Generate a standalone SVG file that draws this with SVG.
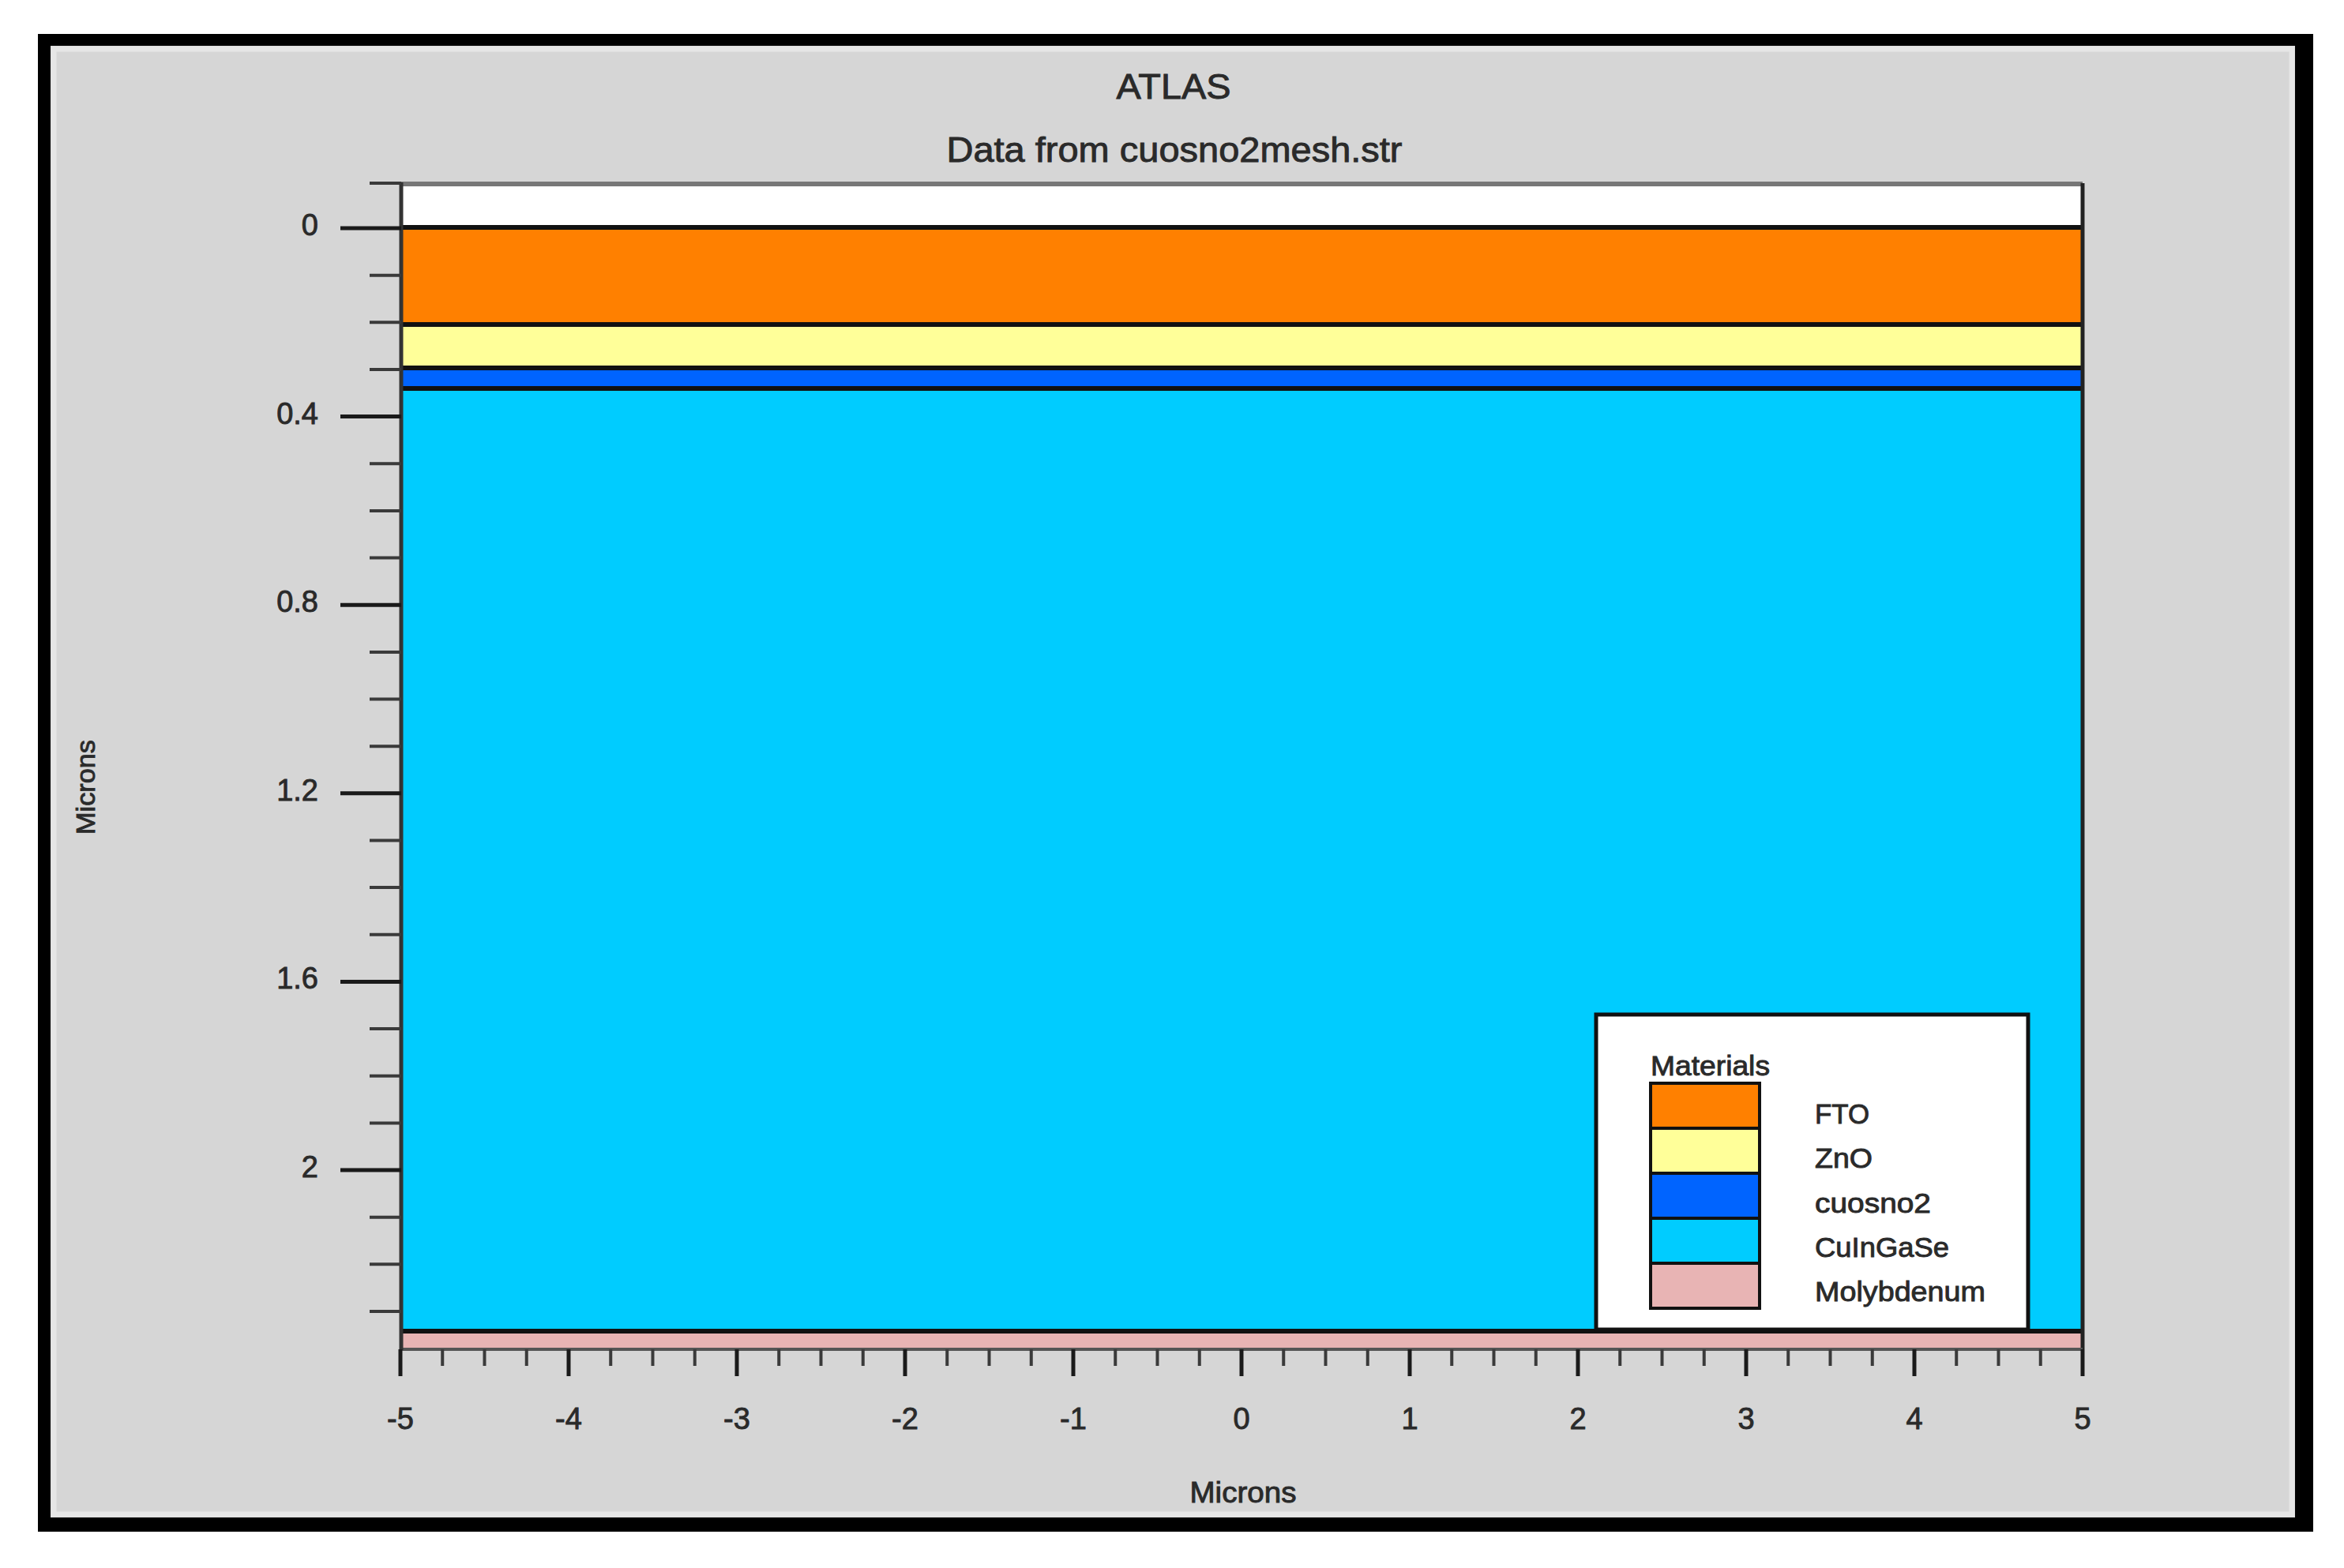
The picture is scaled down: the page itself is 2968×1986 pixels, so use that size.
<svg xmlns="http://www.w3.org/2000/svg" width="2968" height="1986" viewBox="0 0 2968 1986">
<style>
text{font-family:"Liberation Sans",Arial,sans-serif;font-weight:normal;fill:#2a2a2a;stroke:#2a2a2a;stroke-width:0.9}
.title{font-size:44px}
.tick{font-size:38px}
.leg{font-size:35px}
.sw{stroke:#111;stroke-width:4}
.bnd{stroke:#111;stroke-width:6}
.maj{stroke:#1a1a1a;stroke-width:5;fill:none}
.min{stroke:#3a3a3a;stroke-width:4;fill:none}
</style>
<rect x="0" y="0" width="2968" height="1986" fill="#ffffff"/>
<g id="frame">
<path d="M48,43H2929V1940H48Z M64,58V1922H2906V58Z" fill="#000" fill-rule="evenodd"/>
<rect x="64" y="58" width="2842" height="1864" fill="#d6d6d6"/>
<rect x="68" y="62" width="2834" height="1856" fill="none" stroke="#e6e6e6" stroke-width="7"/>
</g>
<g id="titles">
<text class="title" x="1486" y="125" text-anchor="middle" textLength="145" lengthAdjust="spacingAndGlyphs">ATLAS</text>
<text class="title" x="1487" y="205" text-anchor="middle" textLength="577" lengthAdjust="spacingAndGlyphs">Data from cuosno2mesh.str</text>
</g>
<g id="layers">
<rect id="air" x="508" y="232" width="2129" height="56" fill="#ffffff"/>
<rect id="fto" x="508" y="288" width="2129" height="123" fill="#ff8000"/>
<rect id="zno" x="508" y="411" width="2129" height="55" fill="#ffff99"/>
<rect id="cuosno2" x="508" y="466" width="2129" height="26" fill="#0064ff"/>
<rect id="cuingase" x="508" y="492" width="2129" height="1194" fill="#00ccff"/>
<rect id="molybdenum" x="508" y="1686" width="2129" height="23" fill="#e8b4b4"/>
<path class="bnd" d="M508,288H2637 M508,411H2637 M508,466H2637 M508,492H2637 M508,1686H2637"/>
<path d="M508,233H2637" stroke="#777" stroke-width="6"/>
<path d="M2637,232V1709" stroke="#222" stroke-width="5"/>
<path d="M508,1709H2637" stroke="#555" stroke-width="4"/>
<path d="M508,231V1710" stroke="#333" stroke-width="5"/>
</g>
<g id="y-axis">
<path class="maj" d="M431,289H508 M431,527.6H508 M431,766.2H508 M431,1004.8H508 M431,1243.4H508 M431,1482H508"/>
<path class="min" d="M468,232H508 M468,348.7H508 M468,408.3H508 M468,468H508 M468,587.3H508 M468,646.9H508 M468,706.6H508 M468,825.9H508 M468,885.5H508 M468,945.2H508 M468,1064.5H508 M468,1124.1H508 M468,1183.8H508 M468,1303.1H508 M468,1362.7H508 M468,1422.4H508 M468,1541.7H508 M468,1601.3H508 M468,1661H508"/>
<text class="tick" x="403" y="298" text-anchor="end">0</text>
<text class="tick" x="403" y="537" text-anchor="end">0.4</text>
<text class="tick" x="403" y="775" text-anchor="end">0.8</text>
<text class="tick" x="403" y="1014" text-anchor="end">1.2</text>
<text class="tick" x="403" y="1252" text-anchor="end">1.6</text>
<text class="tick" x="403" y="1491" text-anchor="end">2</text>
<text class="tick" transform="translate(120,997) rotate(-90)" text-anchor="middle" textLength="120" lengthAdjust="spacingAndGlyphs" style="font-size:34px">Microns</text>
</g>
<g id="x-axis">
<path class="maj" d="M507,1709V1743 M720,1709V1743 M933,1709V1743 M1146,1709V1743 M1359,1709V1743 M1572,1709V1743 M1785,1709V1743 M1998,1709V1743 M2211,1709V1743 M2424,1709V1743 M2637,1709V1743"/>
<path class="min" d="M560.25,1709V1730 M613.5,1709V1730 M666.75,1709V1730 M773.25,1709V1730 M826.5,1709V1730 M879.75,1709V1730 M986.25,1709V1730 M1039.5,1709V1730 M1092.75,1709V1730 M1199.25,1709V1730 M1252.5,1709V1730 M1305.75,1709V1730 M1412.25,1709V1730 M1465.5,1709V1730 M1518.75,1709V1730 M1625.25,1709V1730 M1678.5,1709V1730 M1731.75,1709V1730 M1838.25,1709V1730 M1891.5,1709V1730 M1944.75,1709V1730 M2051.25,1709V1730 M2104.5,1709V1730 M2157.75,1709V1730 M2264.25,1709V1730 M2317.5,1709V1730 M2370.75,1709V1730 M2477.25,1709V1730 M2530.5,1709V1730 M2583.75,1709V1730"/>
<text class="tick" x="507" y="1810" text-anchor="middle">-5</text>
<text class="tick" x="720" y="1810" text-anchor="middle">-4</text>
<text class="tick" x="933" y="1810" text-anchor="middle">-3</text>
<text class="tick" x="1146" y="1810" text-anchor="middle">-2</text>
<text class="tick" x="1359" y="1810" text-anchor="middle">-1</text>
<text class="tick" x="1572" y="1810" text-anchor="middle">0</text>
<text class="tick" x="1785" y="1810" text-anchor="middle">1</text>
<text class="tick" x="1998" y="1810" text-anchor="middle">2</text>
<text class="tick" x="2211" y="1810" text-anchor="middle">3</text>
<text class="tick" x="2424" y="1810" text-anchor="middle">4</text>
<text class="tick" x="2637" y="1810" text-anchor="middle">5</text>
<text class="tick" x="1574" y="1903" text-anchor="middle" textLength="135" lengthAdjust="spacingAndGlyphs" style="font-size:36px">Microns</text>
</g>
<g id="legend">
<rect x="2021" y="1285" width="547" height="399" fill="#ffffff" stroke="#111" stroke-width="5"/>
<text class="leg" x="2090" y="1362" textLength="151" lengthAdjust="spacingAndGlyphs">Materials</text>
<g id="legend-fto"><rect class="sw" x="2090" y="1372" width="138" height="57" fill="#ff8000"/><text class="leg" x="2298" y="1423" textLength="69" lengthAdjust="spacingAndGlyphs">FTO</text></g>
<g id="legend-zno"><rect class="sw" x="2090" y="1429" width="138" height="57" fill="#ffff99"/><text class="leg" x="2298" y="1479" textLength="73" lengthAdjust="spacingAndGlyphs">ZnO</text></g>
<g id="legend-cuosno2"><rect class="sw" x="2090" y="1486" width="138" height="57" fill="#0064ff"/><text class="leg" x="2298" y="1536" textLength="147" lengthAdjust="spacingAndGlyphs">cuosno2</text></g>
<g id="legend-cuingase"><rect class="sw" x="2090" y="1543" width="138" height="57" fill="#00ccff"/><text class="leg" x="2298" y="1592" textLength="170" lengthAdjust="spacingAndGlyphs">CuInGaSe</text></g>
<g id="legend-molybdenum"><rect class="sw" x="2090" y="1600" width="138" height="57" fill="#e8b4b4"/><text class="leg" x="2298" y="1648" textLength="216" lengthAdjust="spacingAndGlyphs">Molybdenum</text></g>
</g>
</svg>
